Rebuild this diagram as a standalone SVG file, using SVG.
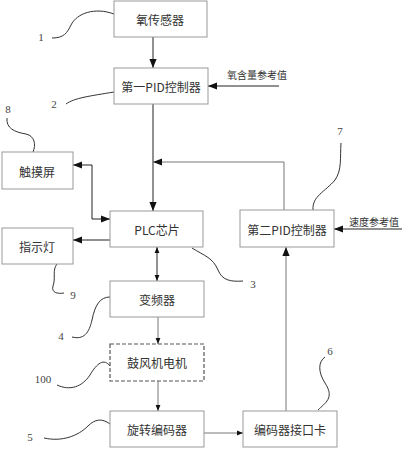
<svg xmlns="http://www.w3.org/2000/svg" width="404" height="450" viewBox="0 0 404 450">
<defs>
<marker id="a" viewBox="0 0 10 10" refX="10" refY="5" markerWidth="9" markerHeight="9" markerUnits="userSpaceOnUse" orient="auto-start-reverse"><path d="M0,1 L10,5 L0,9 z" fill="#111"/></marker>
<marker id="s" viewBox="0 0 10 10" refX="10" refY="5" markerWidth="6" markerHeight="6" markerUnits="userSpaceOnUse" orient="auto-start-reverse"><path d="M0,1 L10,5 L0,9 z" fill="#111"/></marker>
</defs>
<style>
.b{fill:#fff;stroke:#999;stroke-width:1}
.d{fill:#fff;stroke:#555;stroke-width:1.2;stroke-dasharray:4 2}
.t{font-family:"Noto Sans CJK SC","Liberation Serif",serif;font-size:12px;fill:#333;text-anchor:middle;dominant-baseline:central}
.r{font-family:"Noto Sans CJK SC","Liberation Serif",serif;font-size:10px;fill:#333;text-anchor:middle;dominant-baseline:central}
.n{font-family:"Liberation Serif",serif;font-size:11px;fill:#444;text-anchor:middle;dominant-baseline:central}
.l{fill:none;stroke:#222;stroke-width:1}
.g{fill:none;stroke:#777;stroke-width:1}
.c{fill:none;stroke:#333;stroke-width:1}
</style>
<rect width="404" height="450" fill="#fff"/>
<g id="connectors">
<path class="l" d="M153,37 V68" marker-end="url(#a)"/>
<path class="l" d="M279,86 H208" marker-end="url(#a)"/>
<path class="l" d="M153,104 V211" marker-end="url(#a)"/>
<path class="g" d="M284,210 V162 H153" marker-end="url(#a)"/>
<path class="l" d="M73,165 H92 V219 H110" marker-start="url(#a)" marker-end="url(#a)"/>
<path class="l" d="M110,240 H73" marker-end="url(#a)"/>
<path class="l" d="M402,229 H334" marker-end="url(#a)"/>
<path class="l" d="M157,247 V281" marker-start="url(#s)" marker-end="url(#s)"/>
<path class="g" d="M158,317 V344" marker-end="url(#s)"/>
<path class="g" d="M158,381 V411" marker-end="url(#s)"/>
<path class="g" d="M204,433 H243" marker-end="url(#s)"/>
<path class="g" d="M286,411 V247" marker-end="url(#a)"/>
</g>
<g id="leaders">
<path class="c" d="M52,38 C64,38 67,33 71,25 C77,13 95,7 114,14"/>
<path class="c" d="M66,104 C74,98 90,96 114,92"/>
<path class="c" d="M7,118 C6,128 14,132 26,134 C35,136 36,145 33,152"/>
<path class="c" d="M57,264 C52,270 56,278 53,286 C51,293 58,294 64,293"/>
<path class="c" d="M192,248 C205,256 213,258 218,270 C222,280 230,282 243,281"/>
<path class="c" d="M313,210 C312,196 325,192 335,180 C342,170 340,158 341,143"/>
<path class="c" d="M72,337 C84,340 89,333 92,320 C95,305 100,297 110,297"/>
<path class="c" d="M57,385 C70,391 82,387 90,375 C97,363 104,358 110,366"/>
<path class="c" d="M44,438 C62,442 78,436 88,426 C95,419 102,418 110,424"/>
<path class="c" d="M318,410 C325,403 335,398 325,383 C318,372 318,362 325,357"/>
</g>
<g id="n1"><rect class="b" x="114" y="1" width="93" height="36"/><text class="t" x="160" y="19">氧传感器</text></g>
<g id="n2"><rect class="b" x="114" y="68" width="94" height="36"/><text class="t" x="161" y="86">第一PID控制器</text></g>
<g id="n8"><rect class="b" x="2" y="152" width="71" height="37"/><text class="t" x="37" y="171">触摸屏</text></g>
<g id="n3"><rect class="b" x="110" y="211" width="93" height="36"/><text class="t" x="157" y="229">PLC芯片</text></g>
<g id="n9"><rect class="b" x="2" y="228" width="71" height="36"/><text class="t" x="37" y="246">指示灯</text></g>
<g id="n7"><rect class="b" x="240" y="210" width="94" height="37"/><text class="t" x="287" y="229">第二PID控制器</text></g>
<g id="n4"><rect class="b" x="110" y="281" width="94" height="36"/><text class="t" x="157" y="299">变频器</text></g>
<g id="n100"><rect class="d" x="110" y="344" width="94" height="37"/><text class="t" x="157" y="362">鼓风机电机</text></g>
<g id="n5"><rect class="b" x="110" y="411" width="94" height="36"/><text class="t" x="157" y="429">旋转编码器</text></g>
<g id="n6"><rect class="b" x="243" y="411" width="94" height="36"/><text class="t" x="290" y="429">编码器接口卡</text></g>
<g id="labels">
<text class="r" x="257" y="74">氧含量参考值</text>
<text class="r" x="374" y="221">速度参考值</text>
<text class="n" x="41" y="37">1</text>
<text class="n" x="54" y="104">2</text>
<text class="n" x="8" y="109">8</text>
<text class="n" x="340" y="131">7</text>
<text class="n" x="253" y="284">3</text>
<text class="n" x="73" y="295">9</text>
<text class="n" x="61" y="336">4</text>
<text class="n" x="43" y="379">100</text>
<text class="n" x="30" y="437">5</text>
<text class="n" x="330" y="351">6</text>
</g>
</svg>
